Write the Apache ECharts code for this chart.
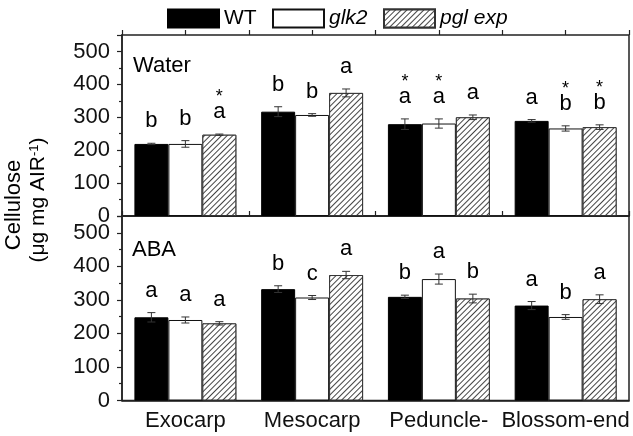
<!DOCTYPE html>
<html><head><meta charset="utf-8">
<script src="https://cdn.jsdelivr.net/npm/echarts@6/dist/echarts.min.js"></script>
<style>html,body{margin:0;padding:0;background:#fff}#c{width:633px;height:436px}</style>
</head><body><div id="c"></div>
<script>
// ---------- data ----------
const categories = ['Exocarp', 'Mesocarp', 'Peduncle-', 'Blossom-end'];
const seriesNames = ['WT', 'glk2', 'pgl exp'];
// Water panel
const waterWT = [219, 317, 279, 289];
const waterWTErr = [2, 15, 16, 4];
const waterGlk2 = [219, 307, 281, 266];
const waterGlk2Err = [10, 4, 14, 8];
const waterPgl = [247, 374, 300, 270];
const waterPglErr = [2, 12, 7, 7];
const waterWTLetters = ['b', 'b', 'a', 'a'];
const waterGlk2Letters = ['b', 'b', 'a', 'b'];
const waterPglLetters = ['a', 'a', 'a', 'b'];
const waterWTStars = [false, false, true, false];
const waterGlk2Stars = [false, false, true, true];
const waterPglStars = [true, false, false, true];
// ABA panel
const abaWT = [248, 332, 309, 283];
const abaWTErr = [14, 10, 5, 12];
const abaGlk2 = [240, 307, 362, 249];
const abaGlk2Err = [9, 6, 15, 7];
const abaPgl = [230, 374, 304, 302];
const abaPglErr = [5, 11, 13, 13];
const abaWTLetters = ['a', 'b', 'b', 'a'];
const abaGlk2Letters = ['a', 'c', 'a', 'b'];
const abaPglLetters = ['a', 'a', 'b', 'a'];
const abaNoStars = [false, false, false, false];
const panelLabels = ['Water', 'ABA'];
const yMin = 0, yMax = 550, yStep = 100;
const tickSlots = ['', '', '', '', '', '', '', ''];

// ---------- style ----------
const FONT = "'Liberation Sans', Arial, sans-serif";
const BAR_FRAC = 0.268;
const hatch = {
  symbol: 'rect', symbolSize: 1, color: '#444', backgroundColor: '#fff',
  dashArrayX: [1, 0], dashArrayY: [1, 2.2], rotation: -Math.PI / 4
};
const barStyles = [
  { color: '#000', borderColor: '#000', borderWidth: 1 },
  { color: '#fff', borderColor: '#111', borderWidth: 1 },
  { color: '#fff', borderColor: '#333', borderWidth: 1, decal: hatch }
];

const chart = echarts.init(document.getElementById('c'), null, { renderer: 'canvas' });

function yAxis(gridIndex) {
  return {
    type: 'value', gridIndex, min: yMin, max: yMax, interval: yStep,
    axisLine: { show: true, lineStyle: { color: '#222', width: 1.5 } },
    axisTick: { show: true, length: 5, lineStyle: { color: '#222', width: 1.2 } },
    minorTick: { show: true, splitNumber: 2, length: 3, lineStyle: { color: '#222', width: 1.2 } },
    splitLine: { show: false },
    axisLabel: { fontFamily: FONT, fontSize: 22, color: '#111', margin: 12, showMaxLabel: false,
      formatter: v => (v % yStep === 0 ? String(v) : '') }
  };
}
function catAxis(gridIndex, showLabels) {
  return {
    type: 'category', gridIndex, data: categories,
    axisLine: { show: true, lineStyle: { color: '#222', width: 1.5 } },
    axisTick: { show: false },
    axisLabel: { show: showLabels, fontFamily: FONT, fontSize: 22, color: '#111', margin: 9, interval: 0 }
  };
}
function tickAxis(gridIndex) {
  return {
    type: 'category', gridIndex, data: tickSlots, boundaryGap: true,
    axisLine: { show: false },
    axisTick: { show: true, length: 5, interval: 0, lineStyle: { color: '#222', width: 1.2 } },
    axisLabel: { show: false }
  };
}

function bars(name, idx, values, xAxisIndex, yAxisIndex) {
  return {
    name, type: 'bar', xAxisIndex, yAxisIndex, data: values,
    barWidth: (BAR_FRAC * 100) + '%', barGap: '0%',
    itemStyle: barStyles[idx], silent: true
  };
}

function overlay(idx, values, errs, letters, stars, xAxisIndex, yAxisIndex) {
  return {
    type: 'custom', xAxisIndex, yAxisIndex, z: 10, silent: true,
    data: values.map((v, i) => [i, v, errs[i]]),
    renderItem(params, api) {
      const i = api.value(0), v = api.value(1), e = api.value(2);
      const c = api.coord([i, v]);
      const band = api.size([1, 0])[0];
      const x = c[0] + (idx - 1) * band * BAR_FRAC;
      const top = api.coord([i, v + e])[1];
      const bot = api.coord([i, v - e])[1];
      const cap = 4;
      const ls = { stroke: '#333', lineWidth: 1 };
      const children = [];
      if (e > 0) {
        children.push({ type: 'line', shape: { x1: x, y1: top, x2: x, y2: bot }, style: ls });
        children.push({ type: 'line', shape: { x1: x - cap, y1: top, x2: x + cap, y2: top }, style: ls });
        children.push({ type: 'line', shape: { x1: x - cap, y1: bot, x2: x + cap, y2: bot }, style: ls });
      }
      const k = params.dataIndex;
      const ly = top - 11;
      children.push({ type: 'text', style: { text: letters[k], x, y: ly, align: 'center', verticalAlign: 'bottom',
        font: '22px ' + FONT, fill: '#000' } });
      if (stars[k]) {
        children.push({ type: 'text', style: { text: '*', x, y: ly - 17, align: 'center', verticalAlign: 'bottom',
          font: '18px ' + FONT, fill: '#000' } });
      }
      return { type: 'group', children };
    }
  };
}

function legendAt(left, name, italic) {
  return {
    left, top: 3, itemWidth: 51, itemHeight: 18, itemGap: 0, data: [name],
    selectedMode: false, icon: 'rect',
    textStyle: { fontFamily: FONT, fontSize: 21, color: '#000', fontStyle: italic ? 'italic' : 'normal', padding: [0, 0, 0, 0] }
  };
}

const option = {
  animation: false,
  backgroundColor: '#fff',
  legend: [legendAt(162, seriesNames[0], false), legendAt(267, seriesNames[1], true), legendAt(378, seriesNames[2], true)],
  grid: [
    { left: 122, right: 4, top: 35, height: 181, show: true, borderColor: '#222', borderWidth: 1.5, backgroundColor: 'transparent' },
    { left: 122, right: 4, top: 216, height: 184.5, show: true, borderColor: '#222', borderWidth: 1.5, backgroundColor: 'transparent' }
  ],
  xAxis: [catAxis(0, false), tickAxis(0), catAxis(1, true), tickAxis(1)],
  yAxis: [yAxis(0), yAxis(1)],
  series: [
    bars(seriesNames[0], 0, waterWT, 0, 0),
    bars(seriesNames[1], 1, waterGlk2, 0, 0),
    bars(seriesNames[2], 2, waterPgl, 0, 0),
    bars(seriesNames[0], 0, abaWT, 2, 1),
    bars(seriesNames[1], 1, abaGlk2, 2, 1),
    bars(seriesNames[2], 2, abaPgl, 2, 1),
    overlay(0, waterWT, waterWTErr, waterWTLetters, waterWTStars, 0, 0),
    overlay(1, waterGlk2, waterGlk2Err, waterGlk2Letters, waterGlk2Stars, 0, 0),
    overlay(2, waterPgl, waterPglErr, waterPglLetters, waterPglStars, 0, 0),
    overlay(0, abaWT, abaWTErr, abaWTLetters, abaNoStars, 2, 1),
    overlay(1, abaGlk2, abaGlk2Err, abaGlk2Letters, abaNoStars, 2, 1),
    overlay(2, abaPgl, abaPglErr, abaPglLetters, abaNoStars, 2, 1)
  ],
  graphic: [
    { type: 'text', left: 133, top: 55, style: { text: panelLabels[0], font: '22px ' + FONT, fill: '#000' } },
    { type: 'text', left: 132, top: 239, style: { text: panelLabels[1], font: '22px ' + FONT, fill: '#000' } },
    { type: 'text', x: 14, y: 205, rotation: Math.PI / 2,
      style: { text: 'Cellulose', font: '22px ' + FONT, fill: '#000', align: 'center', verticalAlign: 'middle' } },
    { type: 'text', x: 38, y: 200, rotation: Math.PI / 2,
      style: { text: '(μg mg AIR{sup|-1})', font: '21px ' + FONT, fill: '#000', align: 'center', verticalAlign: 'middle',
        rich: { sup: { fontSize: 13, fontFamily: FONT, verticalAlign: 'top', padding: [0, 0, 8, 0] } } } }
  ]
};
chart.setOption(option);
</script>
</body></html>
